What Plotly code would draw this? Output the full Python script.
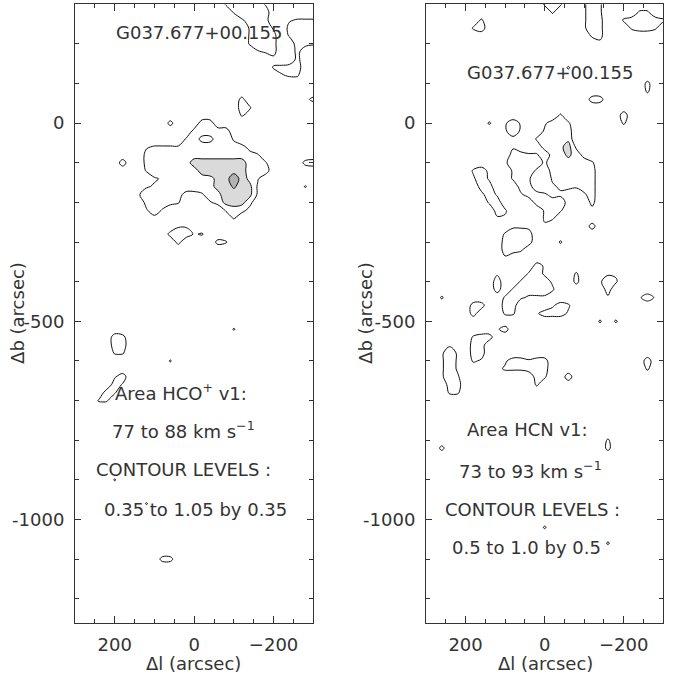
import plotly.graph_objects as go

# ---------------- grid (offsets in arcsec) ----------------
NCOLS, NROWS = 31, 79
L_VALUES = [300 - 20 * j for j in range(NCOLS)]     # Delta l, 300 .. -300
B_VALUES = [300 - 20 * i for i in range(NROWS)]     # Delta b, 300 .. -1260

# Integrated intensity, cell values in units of 0.1
# (base-36 digit / 10, '.' = 0).  Each entry: (row, first column, values)
HCO_CELLS = [
    (0, 19, "466663"), (1, 20, "46666"),
    (2, 21, "3565"), (2, 27, "3444"),
    (3, 22, "4663"), (3, 27, "5666"),
    (4, 22, "4665"), (4, 27, "4666"),
    (5, 22, "4665"), (5, 28, "654"),
    (6, 23, "345"), (6, 28, "5"),
    (7, 25, "2"), (7, 28, "5"),
    (8, 25, "4566"), (9, 26, "344"),
    (12, 21, "5"), (12, 29, "25"),
    (13, 21, "64"), (14, 21, "42"),
    (15, 12, "5"), (15, 16, "66"),
    (16, 15, "56666"),
    (17, 14, "4622663"),
    (18, 9, "34444566665552"),
    (19, 9, "566666666666654"),
    (20, 6, "6"), (20, 9, "5666668888888664"), (20, 29, "56"),
    (21, 9, "4666666899998666"),
    (22, 10, "3466666689d964"),
    (23, 9, "34566666689b983"), (23, 29, "4"),
    (24, 8, "3666652236699983"),
    (25, 9, "56654"), (25, 17, "358885"),
    (26, 9, "363"), (26, 19, "4652"),
    (27, 10, "2"), (27, 20, "4"),
    (28, 13, "33"), (29, 12, "56634"),
    (30, 13, "5"), (30, 18, "54"),
    (41, 20, "4"),
    (42, 5, "65"), (43, 5, "66"), (44, 5, "44"),
    (45, 12, "4"),
    (47, 5, "36"), (48, 5, "63"), (49, 4, "64"), (50, 3, "44"),
    (60, 5, "4"), (63, 9, "4"), (70, 11, "55"),
]

HCN_CELLS = [
    (0, 15, "686"), (0, 20, "496"),
    (1, 16, "6"), (1, 20, "496"), (1, 27, "66"),
    (2, 7, "6"), (2, 20, "497"), (2, 25, "688886"),
    (3, 6, "69"), (3, 20, "497"), (3, 26, "6886"),
    (4, 21, "67"), (5, 22, "3"),
    (8, 18, "6"),
    (10, 28, "7"), (11, 28, "6"),
    (12, 21, "88"),
    (14, 17, "6"), (14, 25, "9"),
    (15, 8, "6"), (15, 10, "494"), (15, 15, "4886"), (15, 25, "6"),
    (16, 10, "494"), (16, 15, "6888"),
    (17, 11, "3"), (17, 14, "68889"),
    (18, 11, "4"), (18, 15, "889c4"),
    (19, 11, "8866"), (19, 16, "88b83"),
    (20, 10, "488884888886"),
    (21, 6, "693"), (21, 11, "6884"), (21, 16, "888888"),
    (22, 6, "494"), (22, 11, "686"), (22, 16, "688888"),
    (23, 7, "88"), (23, 12, "88"), (23, 16, "466688"),
    (24, 7, "394"), (24, 12, "4886343.48"),
    (25, 8, "69"), (25, 14, "88883..7"),
    (26, 9, "86"), (26, 15, "686"), (26, 21, "3"),
    (27, 9, "44"), (27, 15, "66"),
    (28, 11, "443"), (28, 15, "4"), (28, 21, "8"),
    (29, 10, "6888"),
    (30, 10, "8888"), (30, 17, "6"),
    (31, 10, "886"), (32, 10, "4"),
    (33, 14, "84"),
    (34, 9, "4"), (34, 13, "684"), (34, 19, "6"), (34, 23, "44"),
    (35, 9, "9"), (35, 12, "68884"), (35, 19, "7"), (35, 22, "496"),
    (36, 9, "8"), (36, 11, "688886"), (36, 23, "8"),
    (37, 2, "6"), (37, 10, "686444"), (37, 23, "4"), (37, 27, "494"),
    (38, 6, "88"), (38, 10, "88"), (38, 16, "486"),
    (39, 6, "8"), (39, 10, "66"), (39, 14, "48884"),
    (40, 22, "6.6"),
    (41, 9, "48"),
    (42, 6, "688"),
    (43, 3, "4"), (43, 6, "88"),
    (44, 2, "494"), (44, 6, "88"),
    (45, 2, "494"), (45, 6, "64"), (45, 10, "488688"), (45, 28, "9"),
    (46, 2, "494"), (46, 9, "3666888"), (46, 28, "6"),
    (47, 2, "496"), (47, 14, "86"), (47, 18, "9"),
    (48, 3, "88"), (48, 14, "6"),
    (49, 3, "66"),
    (55, 23, "6"), (56, 2, "7"), (56, 23, "7"),
    (66, 15, "6"), (68, 23, "6"),
]

HCO_LEVELS = (0.35, 1.05, 0.35)
HCN_LEVELS = (0.5, 1.0, 0.5)

SOURCE = "G037.677+00.155"
HCO_TEXT = ["Area HCO<sup>+</sup> v1:", "77 to 88 km s<sup>\u22121</sup>",
            "CONTOUR LEVELS :", "0.35 to 1.05 by 0.35"]
HCN_TEXT = ["Area HCN v1:", "73 to 93 km s<sup>\u22121</sup>",
            "CONTOUR LEVELS :", "0.5 to 1.0 by 0.5"]
X_TICKS = [200, 0, -200]
X_TICKTEXT = ["200", "0", "\u2212200"]
Y_TICKS = [0, -500, -1000]
Y_TICKTEXT = ["0", "-500", "-1000"]
X_MINOR = [250, 150, 100, 50, -50, -100, -150, -250]
Y_MINOR = [200, 100, -100, -200, -300, -400, -600, -700, -800, -900,
           -1100, -1200]


def build(cells):
    z = [[0.0] * NCOLS for _ in range(NROWS)]
    for r, c0, s in cells:
        for k, ch in enumerate(s):
            if ch != ".":
                z[r][c0 + k] = int(ch, 36) / 10.0
    return z


FONT = "DejaVu Sans"
TXT = "#333333"
AXC = "#333333"

fig = go.Figure()

fig.add_trace(go.Contour(
    z=build(HCO_CELLS), x=L_VALUES, y=B_VALUES, xaxis="x", yaxis="y",
    autocontour=False,
    contours=dict(start=HCO_LEVELS[0], end=HCO_LEVELS[1], size=HCO_LEVELS[2],
                  coloring="fill", showlines=True),
    colorscale=[[0, "white"], [0.5, "white"], [0.5, "#dadada"],
                [0.83, "#dadada"], [0.83, "#b2b2b2"], [1, "#b2b2b2"]],
    line=dict(color="#111111", width=1, smoothing=1),
    showscale=False, hoverinfo="skip"))

fig.add_trace(go.Contour(
    z=build(HCN_CELLS), x=L_VALUES, y=B_VALUES, xaxis="x2", yaxis="y2",
    autocontour=False,
    contours=dict(start=HCN_LEVELS[0], end=HCN_LEVELS[1], size=HCN_LEVELS[2],
                  coloring="fill", showlines=True),
    colorscale=[[0, "white"], [0.75, "white"], [0.75, "#dadada"], [1, "#dadada"]],
    line=dict(color="#111111", width=1, smoothing=1),
    showscale=False, hoverinfo="skip"))

W, H = 673, 676
ydom = [1 - 622.5 / H, 1 - 4.3 / H]


def xax(domain, anchor):
    return dict(domain=domain, anchor=anchor, range=[300, -300],
                tickmode="array", tickvals=X_TICKS, ticktext=X_TICKTEXT,
                ticks="inside", ticklen=7, tickwidth=1, tickcolor=AXC,
                showline=True, linecolor=AXC, linewidth=1, mirror="ticks",
                showgrid=False, zeroline=False, automargin=False,
                ticklabelstandoff=6,
                tickfont=dict(family=FONT, size=18, color=TXT),
                minor=dict(tickmode="array", tickvals=X_MINOR, ticks="inside",
                           ticklen=4, tickcolor=AXC, showgrid=False))


def yax(anchor):
    return dict(domain=ydom, anchor=anchor, range=[-1260, 300],
                tickmode="array", tickvals=Y_TICKS, ticktext=Y_TICKTEXT,
                ticks="inside", ticklen=6, tickwidth=1, tickcolor=AXC,
                showline=True, linecolor=AXC, linewidth=1, mirror="ticks",
                showgrid=False, zeroline=False, automargin=False,
                ticklabelstandoff=6,
                tickfont=dict(family=FONT, size=18, color=TXT),
                minor=dict(tickmode="array", tickvals=Y_MINOR, ticks="inside",
                           ticklen=4, tickcolor=AXC, showgrid=False))


ann = []
tf = dict(family=FONT, size=18, color=TXT)
left_pos = [(34, -678), (26, -774), (28, -874), (-4, -975)]
right_pos = [(43, -774), (35, -874), (30, -975), (45, -1071)]


def note(text, x, y, xref, yref, **kw):
    d = dict(text=text, x=x, y=y, xref=xref, yref=yref, showarrow=False,
             font=tf, xanchor="center", yanchor="middle")
    d.update(kw)
    return d


ann.append(note(SOURCE, -12, 228, "x", "y"))
ann.append(note(SOURCE, -13, 127, "x2", "y2"))
for t, (x, y) in zip(HCO_TEXT, left_pos):
    ann.append(note(t, x, y, "x", "y"))
for t, (x, y) in zip(HCN_TEXT, right_pos):
    ann.append(note(t, x, y, "x2", "y2"))
# axis titles
for cx in (194 / W, 545 / W):
    ann.append(note("\u0394l (arcsec)", cx, 1 - 663 / H, "paper", "paper"))
for cx in (17.5 / W, 365.5 / W):
    ann.append(note("\u0394b (arcsec)", cx, (ydom[0] + ydom[1]) / 2,
                    "paper", "paper", textangle=-90))

fig.update_layout(
    width=W, height=H, margin=dict(l=0, r=0, t=0, b=0),
    paper_bgcolor="white", plot_bgcolor="white", showlegend=False,
    xaxis=xax([75 / W, 313.3 / W], "y"),
    yaxis=yax("x"),
    xaxis2=xax([426 / W, 663.3 / W], "y2"),
    yaxis2=yax("x2"),
    annotations=ann,
)

fig.write_html("out.html")
